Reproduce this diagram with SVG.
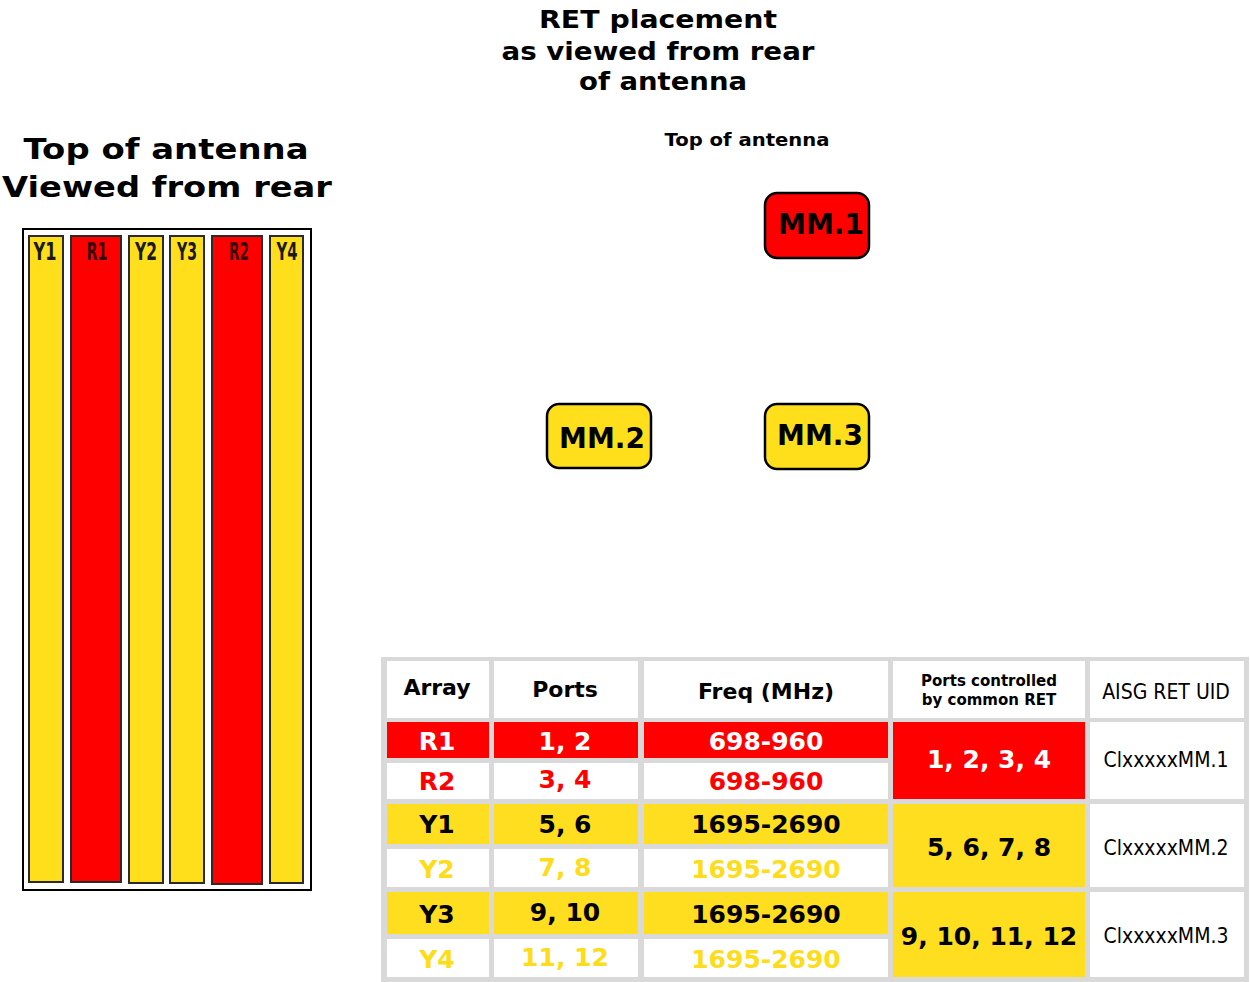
<svg xmlns="http://www.w3.org/2000/svg" width="1250" height="982" viewBox="0 0 1250 982">
<style>
.title{font-family:"DejaVu Sans",sans-serif;font-weight:bold;fill:#000}
.strip-y{fill:#ffdf1b;stroke:#2a2a2a;stroke-width:2}
.strip-r{fill:#ff0000;stroke:#2a2a2a;stroke-width:2}
.slabel{font-family:"DejaVu Sans Condensed","DejaVu Sans",sans-serif;font-weight:bold;font-size:25px;text-anchor:middle}
.mm{stroke:#000;stroke-width:2.5}
.mmt{font-family:"DejaVu Sans",sans-serif;font-weight:bold;font-size:28px;fill:#000;text-anchor:middle}
.th{font-family:"DejaVu Sans",sans-serif;font-weight:bold;fill:#000;text-anchor:middle}
.td{font-family:"DejaVu Sans",sans-serif;font-weight:bold;font-size:25px;text-anchor:middle}
.uid{font-family:"DejaVu Sans Condensed","DejaVu Sans",sans-serif;font-size:21px;fill:#000;text-anchor:middle}
.w{fill:#fff}.r{fill:#ff0000}.y{fill:#ffdd1f}.k{fill:#000}.ty{fill:#ffdc1a}
</style>
<rect width="1250" height="982" fill="#fff"/>

<g id="title-ret">
<text class="title" x="658" y="28" font-size="24" text-anchor="middle" textLength="238" lengthAdjust="spacingAndGlyphs">RET placement</text>
<text class="title" x="658" y="60" font-size="24" text-anchor="middle" textLength="313" lengthAdjust="spacingAndGlyphs">as viewed from rear</text>
<text class="title" x="663" y="90" font-size="24" text-anchor="middle" textLength="168" lengthAdjust="spacingAndGlyphs">of antenna</text>
<text class="title" x="747" y="146" font-size="17" text-anchor="middle" textLength="165" lengthAdjust="spacingAndGlyphs">Top of antenna</text>
</g>

<g id="title-left">
<text class="title" x="166" y="159" font-size="29" text-anchor="middle" textLength="285" lengthAdjust="spacingAndGlyphs">Top of antenna</text>
<text class="title" x="167" y="197" font-size="29" text-anchor="middle" textLength="330" lengthAdjust="spacingAndGlyphs">Viewed from rear</text>
</g>

<g id="antenna-frame">
<rect x="23" y="229" width="288" height="661" fill="#fff" stroke="#000" stroke-width="2"/>
</g>
<g id="strip-Y1"><rect class="strip-y" x="29" y="236" width="34" height="646"/><text class="slabel" x="45" y="260" fill="#1a1a1a" textLength="23" lengthAdjust="spacingAndGlyphs">Y1</text></g>
<g id="strip-R1"><rect class="strip-r" x="71" y="236" width="50" height="646"/><text class="slabel" x="97" y="260" fill="#3b0505" textLength="21" lengthAdjust="spacingAndGlyphs">R1</text></g>
<g id="strip-Y2"><rect class="strip-y" x="129" y="236" width="34" height="647"/><text class="slabel" x="146" y="260" fill="#1a1a1a" textLength="22" lengthAdjust="spacingAndGlyphs">Y2</text></g>
<g id="strip-Y3"><rect class="strip-y" x="170" y="236" width="34" height="647"/><text class="slabel" x="187" y="260" fill="#1a1a1a" textLength="20" lengthAdjust="spacingAndGlyphs">Y3</text></g>
<g id="strip-R2"><rect class="strip-r" x="212" y="236" width="50" height="648"/><text class="slabel" x="239" y="260" fill="#3b0505" textLength="20" lengthAdjust="spacingAndGlyphs">R2</text></g>
<g id="strip-Y4"><rect class="strip-y" x="270" y="236" width="33" height="647"/><text class="slabel" x="287" y="260" fill="#1a1a1a" textLength="21" lengthAdjust="spacingAndGlyphs">Y4</text></g>

<g id="MM1"><rect class="mm" x="765" y="193" width="104" height="65" rx="12" fill="#ff0000"/><text class="mmt" x="821" y="234">MM.1</text></g>
<g id="MM2"><rect class="mm" x="547" y="404" width="104" height="64" rx="12" fill="#ffdf1b"/><text class="mmt" x="602" y="448">MM.2</text></g>
<g id="MM3"><rect class="mm" x="765" y="404" width="104" height="65" rx="12" fill="#ffdf1b"/><text class="mmt" x="820" y="445">MM.3</text></g>

<g id="connectors"></g>

<g id="table">
<rect x="381" y="657" width="868" height="325" fill="#d9d9d9"/>
<!-- header -->
<rect class="w" x="387" y="661" width="102" height="57"/>
<rect class="w" x="494" y="661" width="144" height="57"/>
<rect class="w" x="644" y="661" width="244" height="57"/>
<rect class="w" x="893" y="661" width="192" height="57"/>
<rect class="w" x="1090" y="661" width="154" height="57"/>
<text class="th" x="437" y="695" font-size="22">Array</text>
<text class="th" x="565" y="697" font-size="22">Ports</text>
<text class="th" x="766" y="699" font-size="22">Freq (MHz)</text>
<text class="th" x="989" y="686" font-size="15">Ports controlled</text>
<text class="th" x="989" y="705" font-size="15">by common RET</text>
<text class="uid" x="1166" y="699" font-size="18">AISG RET UID</text>
<!-- R1 -->
<rect class="r" x="387" y="722" width="102" height="36"/>
<rect class="r" x="494" y="722" width="144" height="36"/>
<rect class="r" x="644" y="722" width="244" height="36"/>
<text class="td w" x="437" y="750">R1</text>
<text class="td w" x="565" y="750">1, 2</text>
<text class="td w" x="766" y="750">698-960</text>
<!-- R2 -->
<rect class="w" x="387" y="763" width="102" height="36"/>
<rect class="w" x="494" y="763" width="144" height="36"/>
<rect class="w" x="644" y="763" width="244" height="36"/>
<text class="td r" x="437" y="790">R2</text>
<text class="td r" x="565" y="788">3, 4</text>
<text class="td r" x="766" y="790">698-960</text>
<!-- Y1 -->
<rect class="y" x="387" y="804" width="102" height="40"/>
<rect class="y" x="494" y="804" width="144" height="40"/>
<rect class="y" x="644" y="804" width="244" height="40"/>
<text class="td k" x="437" y="833">Y1</text>
<text class="td k" x="565" y="833">5, 6</text>
<text class="td k" x="766" y="833">1695-2690</text>
<!-- Y2 -->
<rect class="w" x="387" y="849" width="102" height="38"/>
<rect class="w" x="494" y="849" width="144" height="38"/>
<rect class="w" x="644" y="849" width="244" height="38"/>
<text class="td ty" x="437" y="878">Y2</text>
<text class="td ty" x="565" y="876">7, 8</text>
<text class="td ty" x="766" y="878">1695-2690</text>
<!-- Y3 -->
<rect class="y" x="387" y="892" width="102" height="42"/>
<rect class="y" x="494" y="892" width="144" height="42"/>
<rect class="y" x="644" y="892" width="244" height="42"/>
<text class="td k" x="437" y="923">Y3</text>
<text class="td k" x="565" y="921">9, 10</text>
<text class="td k" x="766" y="923">1695-2690</text>
<!-- Y4 -->
<rect class="w" x="387" y="939" width="102" height="38"/>
<rect class="w" x="494" y="939" width="144" height="38"/>
<rect class="w" x="644" y="939" width="244" height="38"/>
<text class="td ty" x="437" y="968">Y4</text>
<text class="td ty" x="565" y="966">11, 12</text>
<text class="td ty" x="766" y="968">1695-2690</text>
<!-- merged -->
<rect class="r" x="893" y="722" width="192" height="77"/>
<rect class="y" x="893" y="804" width="192" height="83"/>
<rect class="y" x="893" y="892" width="192" height="85"/>
<text class="td w" x="989" y="768" font-size="24">1, 2, 3, 4</text>
<text class="td k" x="989" y="856" font-size="24">5, 6, 7, 8</text>
<text class="td k" x="989" y="945" font-size="24.5">9, 10, 11, 12</text>
<rect class="w" x="1090" y="722" width="154" height="77"/>
<rect class="w" x="1090" y="804" width="154" height="83"/>
<rect class="w" x="1090" y="892" width="154" height="85"/>
<text class="uid" x="1166" y="767">ClxxxxxMM.1</text>
<text class="uid" x="1166" y="855">ClxxxxxMM.2</text>
<text class="uid" x="1166" y="943">ClxxxxxMM.3</text>
</g>
</svg>
